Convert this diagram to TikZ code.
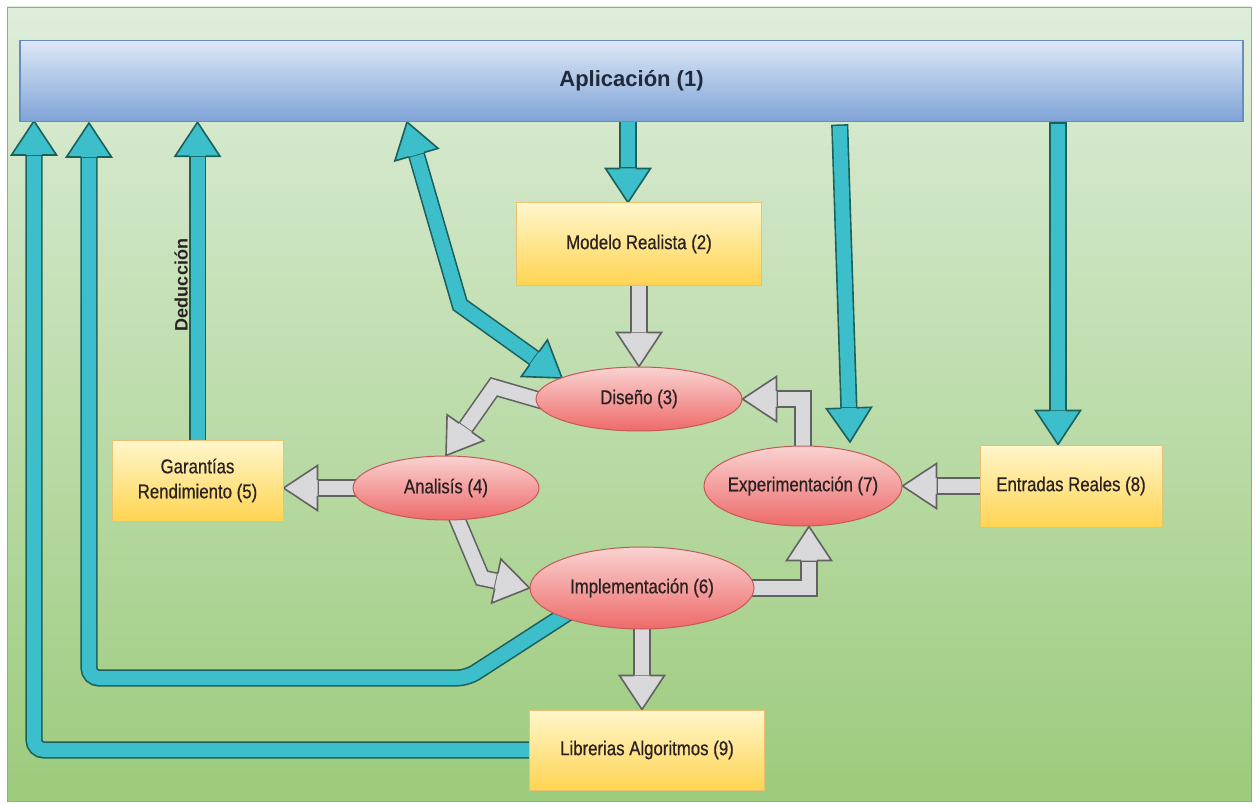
\documentclass[tikz,border=0pt]{standalone}
\usepackage{fontspec}
\setmainfont{Liberation Sans}
\newfontfamily\narrowfont[FakeStretch=0.84,FakeBold=0.6]{Liberation Sans}
\usetikzlibrary{calc,shapes.geometric}
\definecolor{bgtop}{HTML}{DEEDDA}
\definecolor{bgbot}{HTML}{9CCB7C}
\definecolor{bgline}{HTML}{86B86A}
\definecolor{apptop}{HTML}{DDE8F6}
\definecolor{appbot}{HTML}{7FA3D7}
\definecolor{appline}{HTML}{6A8CC0}
\definecolor{boxtop}{HTML}{FFF6CC}
\definecolor{boxbot}{HTML}{FFD451}
\definecolor{boxline}{HTML}{E6C271}
\definecolor{elltop}{HTML}{F9D3D1}
\definecolor{ellbot}{HTML}{EE6A6A}
\definecolor{ellline}{HTML}{C45A55}
\definecolor{tealfill}{HTML}{3DBFCB}
\definecolor{tealline}{HTML}{1A605B}
\definecolor{grayfill}{HTML}{D9D9DB}
\definecolor{grayline}{HTML}{626262}
\definecolor{txtdark}{HTML}{2A2222}
\pgfdeclarelayer{back}
\pgfdeclarelayer{arrowlayer}
\pgfsetlayers{back,arrowlayer,main}
\tikzset{
	appbar/.style={rectangle, draw=appline, line width=1.5pt, top color=apptop, bottom color=appbot,
			font=\bfseries\fontsize{22}{25}\selectfont, text=appline!30!black},
	box/.style={rectangle, draw=boxline, line width=1pt, top color=boxtop, bottom color=boxbot,
			font=\narrowfont\fontsize{20}{25}\selectfont, text=txtdark, align=center, inner sep=0pt},
	phase/.style={ellipse, draw=ellline, line width=1pt, top color=elltop, bottom color=ellbot,
			font=\narrowfont\fontsize{20}{25}\selectfont, text=txtdark, inner xsep=-40pt, inner ysep=0pt},
	tealshaft/.style={draw=tealline, double=tealfill, double distance=14pt, line width=1.6pt, line join=miter, line cap=rect},
	tealtip/.style={draw=tealline, fill=tealfill, line width=1.6pt, line join=miter},
	grayshaft/.style={draw=grayline, double=grayfill, double distance=14pt, line width=1.6pt, line join=miter, line cap=rect},
	graytip/.style={draw=grayline, fill=grayfill, line width=1.6pt, line join=miter}
}
\def\tealhw{7.8pt}
\def\grayhw{7.8pt}
% #1 kind, #2 point before the tip, #3 tip
\newcommand{\blockhead}[3]{%
	\coordinate (hb) at ($(#3)!34pt!(#2)$);
	\filldraw[#1tip] ($(hb)!\csname #1hw\endcsname!90:(#3)$) -- ($(hb)!22.5pt!90:(#3)$) -- (#3)
		-- ($(hb)!22.5pt!-90:(#3)$) -- ($(hb)!\csname #1hw\endcsname!-90:(#3)$);}
% #1 kind, #2 path up to the point before the tip, #3 that point, #4 tip
\newcommand{\blockarrow}[4]{%
	\draw[#1shaft] #2 -- ($(#4)!42pt!(#3)$);
	\blockhead{#1}{#3}{#4}}

\begin{document}
\begin{tikzpicture}[x=1pt,y=-1pt]
	\useasboundingbox (0,0) rectangle (1256,805);
	\begin{pgfonlayer}{back}
		\draw[bgline, top color=bgtop, bottom color=bgbot] (7,7) rectangle (1251,801);
	\end{pgfonlayer}

	\node[appbar, minimum width=1223pt, minimum height=81pt] (app) at (631.5,81) {Aplicación (1)};
	\node[box, minimum width=245pt, minimum height=82pt] (mod) at (639,244) {Modelo Realista (2)};
	\node[box, minimum width=171pt, minimum height=81pt] (gar) at (197.5,480.5) {Garantías\\Rendimiento (5)};
	\node[box, minimum width=182pt, minimum height=82pt] (ent) at (1071,486) {Entradas Reales (8)};
	\node[box, minimum width=235pt, minimum height=80pt] (lib) at (647,750) {Librerias Algoritmos (9)};
	\node[phase, minimum width=206pt, minimum height=64pt] (dis) at (639,399) {Diseño (3)};
	\node[phase, minimum width=186pt, minimum height=64pt] (ana) at (446,488) {Analisís (4)};
	\node[phase, minimum width=224pt, minimum height=82pt] (imp) at (642,588) {Implementación (6)};
	\node[phase, minimum width=198pt, minimum height=80pt] (exp) at (803,486) {Experimentación (7)};
	\node[rotate=90, font=\bfseries\fontsize{18}{20}\selectfont, text=txtdark] (ded) at (181,285) {Deducción};

	\begin{pgfonlayer}{arrowlayer}
		% teal arrows
		\coordinate (t1) at (628,128);
		\coordinate (h1) at (mod.north -| t1);
		\blockarrow{teal}{(t1)}{t1}{h1}
		\coordinate (t2) at (840,133);
		\coordinate (h2) at (850,442);
		\blockarrow{teal}{(t2)}{t2}{h2}
		\coordinate (t3) at (1058,131);
		\coordinate (h3) at (ent.north -| t3);
		\blockarrow{teal}{(t3)}{t3}{h3}
		\coordinate (h4a) at (407,122);
		\coordinate (b4) at (460,305);
		\coordinate (h4b) at (562,378);
		\draw[tealshaft] ($(h4a)!42pt!(b4)$) -- (b4) -- ($(h4b)!42pt!(b4)$);
		\blockhead{teal}{b4}{h4a}
		\blockhead{teal}{b4}{h4b}
		\coordinate (h5) at (app.south -| gar.north);
		\blockarrow{teal}{(gar.north)}{gar.north}{h5}
		\coordinate (t6) at (563,616);
		\coordinate (b6a) at (467,678);
		\coordinate (b6b) at (89,678);
		\coordinate (h6) at (89,123);
		\blockarrow{teal}{(t6) [rounded corners=10pt] -- (b6a) -- (b6b)}{b6b}{h6}
		\coordinate (h7) at (34,121);
		\coordinate (b7) at (h7 |- lib.west);
		\blockarrow{teal}{(lib.west) [rounded corners=10pt] -- (b7)}{b7}{h7}

		% gray arrows
		\blockarrow{gray}{(mod.south)}{mod.south}{dis.north}
		\coordinate (gb) at (494,387);
		\blockarrow{gray}{(dis.west) -- (gb)}{gb}{ana.north}
		\coordinate (gc1) at (458,521);
		\coordinate (gc2) at (482,578);
		\blockarrow{gray}{(gc1) -- (gc2)}{gc2}{imp.west}
		\coordinate (gd) at (809,588);
		\coordinate (gdt) at (exp.south -| gd);
		\blockarrow{gray}{(imp.east) -- (gd)}{gd}{gdt}
		\coordinate (ge) at (exp.north |- dis.east);
		\blockarrow{gray}{(exp.north) -- (ge)}{ge}{dis.east}
		\blockarrow{gray}{(ent.west)}{ent.west}{exp.east}
		\coordinate (gg) at (gar.east |- ana.west);
		\blockarrow{gray}{(ana.west)}{ana.west}{gg}
		\coordinate (gh) at (lib.north -| imp.south);
		\blockarrow{gray}{(imp.south)}{imp.south}{gh}
	\end{pgfonlayer}
\end{tikzpicture}
\end{document}
